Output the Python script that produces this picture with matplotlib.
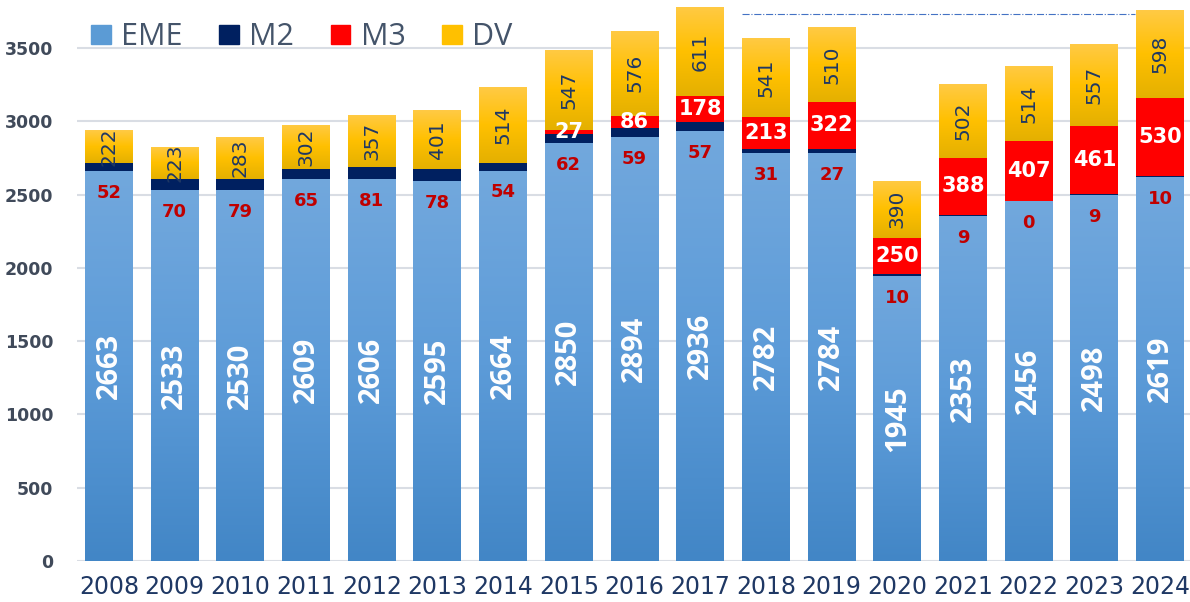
import numpy as np
import matplotlib.pyplot as plt
from matplotlib.colors import LinearSegmentedColormap
from matplotlib.patches import Patch

# data
years = [str(y) for y in range(2008, 2025)]
eme = [2663, 2533, 2530, 2609, 2606, 2595, 2664, 2850, 2894, 2936,
       2782, 2784, 1945, 2353, 2456, 2498, 2619]
m2 = [52, 70, 79, 65, 81, 78, 54, 62, 59, 57, 31, 27, 10, 9, 0, 9, 10]
m3 = [0, 0, 0, 0, 0, 0, 0, 27, 86, 178, 213, 322, 250, 388, 407, 461, 530]
dv = [222, 223, 283, 302, 357, 401, 514, 547, 576, 611, 541, 510,
      390, 502, 514, 557, 598]
series_names = ['EME', 'M2', 'M3', 'DV']
yticks = [0, 500, 1000, 1500, 2000, 2500, 3000, 3500]

c_eme, c_m2, c_m3, c_dv = '#5b9bd5', '#002060', '#ff0000', '#ffc000'

x = np.arange(len(years))
eme_a, m2_a, m3_a, dv_a = map(np.array, (eme, m2, m3, dv))
w = 0.73

fig = plt.figure(figsize=(11.9, 6.02), dpi=100)
ax = fig.add_axes([0.0647, 0.068, 0.9353, 0.932])

b_eme = ax.bar(x, eme_a, w, color=c_eme, zorder=2)
b_m2 = ax.bar(x, m2_a, w, bottom=eme_a, color=c_m2, zorder=2)
b_m3 = ax.bar(x, m3_a, w, bottom=eme_a + m2_a, color=c_m3, zorder=2)
b_dv = ax.bar(x, dv_a, w, bottom=eme_a + m2_a + m3_a, color=c_dv, zorder=2)


def gradient(bars, colors):
    cmap = LinearSegmentedColormap.from_list('g', colors)
    g = np.linspace(0, 1, 256).reshape(-1, 1)
    for b in bars:
        x0, y0 = b.get_x(), b.get_y()
        im = ax.imshow(g, cmap=cmap, origin='lower', aspect='auto',
                       extent=(x0, x0 + b.get_width(), y0, y0 + b.get_height()),
                       zorder=2.1, interpolation='bilinear')
        im.set_clip_path(b)


gradient(b_eme, ['#4286c6', '#5c9bd8', '#72a8dd'])
gradient(b_dv, ['#e4b000', '#ffc000', '#ffca45'])

# labels
for i in x:
    e, m, r, d = eme_a[i], m2_a[i], m3_a[i], dv_a[i]
    ax.text(i, e / 2, str(e), rotation=90, ha='center', va='center',
            color='white', fontsize=21, fontweight='bold',
            family='Open Sans', zorder=5)
    ax.text(i, e - 150, str(m), ha='center', va='center', color='#c00000',
            fontsize=13, fontweight='bold', zorder=5)
    if r > 0:
        ax.text(i, e + m + r / 2, str(r), ha='center', va='center',
                color='white', fontsize=15, fontweight='bold', zorder=5)
    ax.text(i, e + m + r + d / 2, str(d), rotation=90, ha='center',
            va='center', color='#1f3864', fontsize=14.5, zorder=5)

ax.hlines(3731, 9.63, 15.62, colors='#4472c4', linestyles='-.', lw=0.8, zorder=1)

ax.set_xlim(-0.487, 16.455)
ax.set_ylim(0, 3827)
ax.set_xticks(x, years)
ax.set_yticks(yticks)
ax.tick_params(axis='x', length=0, pad=10, labelsize=17, labelcolor='#1f3864')
ax.tick_params(axis='y', length=0, pad=17, labelsize=12.5, labelcolor='#404a5a')
for lab in ax.get_yticklabels():
    lab.set_fontweight('bold')
for s in ax.spines.values():
    s.set_visible(False)
ax.set_axisbelow(True)
ax.yaxis.grid(True, color='#d9dde4', lw=1.5, zorder=0)

handles = [Patch(color=c) for c in (c_eme, c_m2, c_m3, c_dv)]
leg = ax.legend(handles, series_names, loc='center left',
                bbox_to_anchor=(0.0126, 0.934), ncol=4, frameon=False,
                handlelength=0.65, handleheight=0.57,
                handletextpad=0.33, columnspacing=1.2, borderpad=0,
                borderaxespad=0, prop={'family': 'Open Sans', 'size': 22})
for t in leg.get_texts():
    t.set_color('#44546a')

fig.savefig('out.png', dpi=100)
